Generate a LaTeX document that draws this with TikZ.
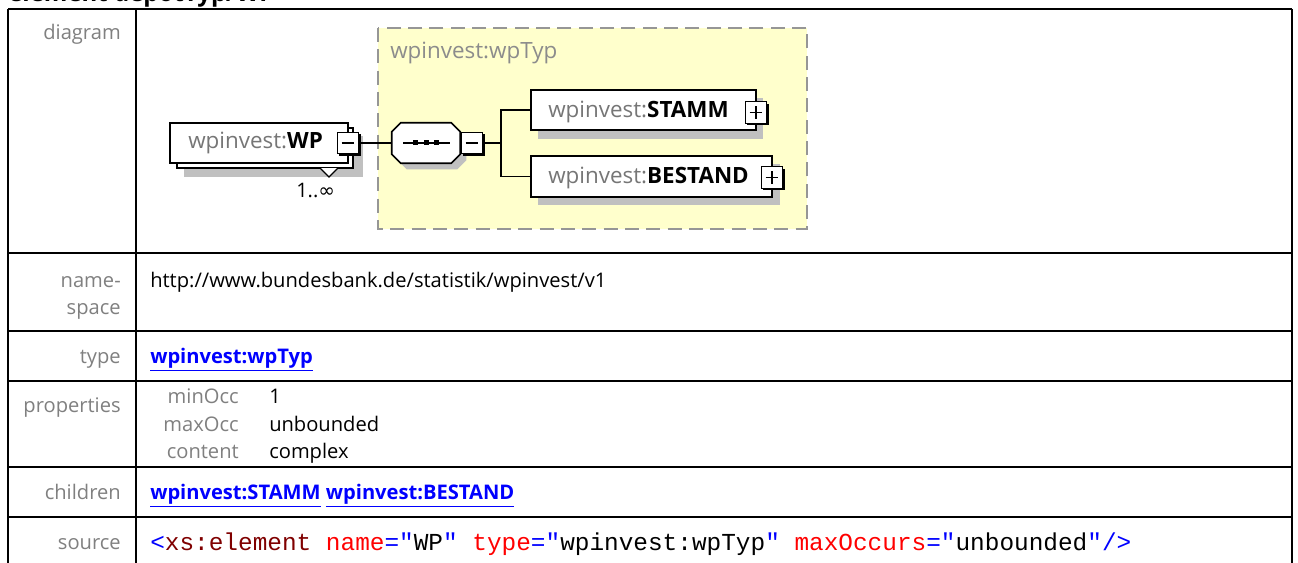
\documentclass[tikz,border=0pt]{standalone}
\usepackage{fontspec}
\setmainfont{Open Sans}
\newfontfamily\codefont{Liberation Mono}
\newfontfamily\symfont{DejaVu Sans}
\definecolor{lblgray}{RGB}{128,128,128}
\definecolor{dgray}{RGB}{118,118,118}
\definecolor{ttlgray}{RGB}{140,140,140}
\definecolor{regionfill}{RGB}{255,255,204}
\definecolor{regionline}{RGB}{150,150,150}
\definecolor{shadowgray}{RGB}{192,192,192}
\definecolor{linkblue}{RGB}{0,0,255}
\definecolor{tagblue}{RGB}{0,0,255}
\definecolor{tagred}{RGB}{128,0,0}
\definecolor{attrred}{RGB}{255,0,0}
\newcommand\tabfont{\fontsize{15.1pt}{18pt}\selectfont}
\newcommand\diafont{\fontsize{16.8pt}{20pt}\selectfont}
\newcommand\srcfont{\codefont\fontsize{18.3pt}{22pt}\selectfont}
\newcommand\lnk[1]{\textcolor{linkblue}{\underline{\textbf{#1}}}}
\newcommand\tglbox[3]{%
  \node[tglshadow,xshift=1.6pt,yshift=-1.6pt] (#1s) at (#2) {};
  \node[tgl] (#1) at (#2) {};
  \draw[line width=0.9pt] ([xshift=-4.8pt]#1.center) -- ([xshift=4.8pt]#1.center);
  \ifx#3p\draw[line width=0.9pt] ([yshift=-4.8pt]#1.center) -- ([yshift=4.8pt]#1.center);\fi
}
\newcommand\octpath[1]{%
  ([xshift=6.75pt]#1.north west) -- ([xshift=-6.75pt]#1.north east) --
  ([yshift=-6.75pt]#1.north east) -- ([yshift=6.75pt]#1.south east) --
  ([xshift=-6.75pt]#1.south east) -- ([xshift=6.75pt]#1.south west) --
  ([yshift=6.75pt]#1.south west) -- ([yshift=-6.75pt]#1.north west) -- cycle}
\tikzset{
  lbl/.style={anchor=base east,text=lblgray,font=\tabfont,inner sep=0},
  val/.style={anchor=base west,text=black,font=\tabfont,inner sep=0},
  dtext/.style={anchor=base west,inner sep=0,font=\diafont},
  elbox/.style={draw,line width=1.2pt,fill=white,inner sep=0,rectangle},
  tgl/.style={draw,line width=0.9pt,fill=white,inner sep=0,minimum width=16pt,minimum height=16pt},
  tglshadow/.style={fill=black,inner sep=0,minimum width=16pt,minimum height=16pt},
  conn/.style={line width=1.1pt},
  tline/.style={line width=1.5pt},
  octo/.style={rectangle,inner sep=0,minimum width=51pt,minimum height=30pt},
}
\begin{document}
\begin{tikzpicture}[x=0.75pt,y=-0.75pt]
\useasboundingbox (0,0) rectangle (1298,563);
\fill[white] (0,0) rectangle (1298,563);
% heading (cut off at the top, as in the page it was taken from)
\begin{scope}
\clip (0,0) rectangle (1298,563);
\node[anchor=base west,inner sep=0,font=\fontsize{18pt}{20pt}\selectfont\bfseries] (heading) at (8,1.5) {element depotTyp/WP};
\end{scope}
% table
\draw[tline] (8,9) -- (1292,9);
\foreach \yy in {253,331,381,467,517} \draw[tline] (8,\yy) -- (1292,\yy);
\draw[tline] (8,9) -- (8,564);
\draw[tline] (136,9) -- (136,564);
\draw[tline] (1292,9) -- (1292,564);
% labels
\node[lbl] (ldiagram) at (121,40) {diagram};
\node[lbl] (lname) at (121,287) {name-};
\node[lbl] (lspace) at (121,314.5) {space};
\node[lbl] (ltype) at (121,363.5) {type};
\node[lbl] (lprops) at (121,412) {properties};
\node[lbl] (lchildren) at (121,499.5) {children};
\node[lbl] (lsource) at (121,549.5) {source};
% values
\node[val] (vns) at (150,287) {http://www.bundesbank.de/statistik/wpinvest/v1};
\node[val] (vtype) at (150,363.5) {\lnk{wpinvest:wpTyp}};
\node[lbl] (pmin) at (239,403.5) {minOcc};
\node[lbl] (pmax) at (239,431.5) {maxOcc};
\node[lbl] (pcont) at (239,458.5) {content};
\node[val] (vmin) at (269,403.5) {1};
\node[val] (vmax) at (269,431.5) {unbounded};
\node[val] (vcont) at (269,458.5) {complex};
\node[val] (vchildren) at (150,499.5) {\lnk{wpinvest:STAMM} \lnk{wpinvest:BESTAND}};
\node[anchor=base west,inner sep=0,font=\srcfont] (vsource) at (150,550.5) {\textcolor{tagblue}{<}\textcolor{tagred}{xs:element} \textcolor{attrred}{name}\textcolor{tagblue}{="}WP\textcolor{tagblue}{"} \textcolor{attrred}{type}\textcolor{tagblue}{="}wpinvest:wpTyp\textcolor{tagblue}{"} \textcolor{attrred}{maxOccurs}\textcolor{tagblue}{="}unbounded\textcolor{tagblue}{"/>}};
% diagram: type region
\filldraw[fill=regionfill,draw=regionline,line width=1.3pt,dash pattern=on 10.5pt off 5.5pt] (378,28) rectangle (807,229);
\node[dtext,text=ttlgray] (rtitle) at (390,59) {wpinvest:wpTyp};
% WP element
\fill[shadowgray] (184,136) rectangle (363,177);
\node[elbox,minimum width=132pt,minimum height=30pt] (wpback) at (265,148) {};
\filldraw[fill=white,draw=black,line width=1pt] (320,168) -- (329,177) -- (338,168);
\node[elbox,minimum width=133.5pt,minimum height=30pt] (wp) at (259,143) {};
\node[dtext] (wplbl) at (188,149) {\textcolor{dgray}{wpinvest:}\textbf{WP}};
\tglbox{wptgl}{348,143}{m}
\node[anchor=base west,inner sep=0,font=\fontsize{15pt}{17pt}\selectfont] (occ) at (296,197) {1..{\symfont ∞}};
% sequence compositor
\node[octo] (seqshadow) at (432,149) {};
\fill[shadowgray] \octpath{seqshadow};
\node[octo] (seq) at (426,143) {};
\filldraw[fill=white,draw=black,line width=1.2pt] \octpath{seq};
\draw[line width=1pt] (403,143) -- (450,143);
\fill (413,140.5) rectangle (418,145.5);
\fill (423.5,140.5) rectangle (428.5,145.5);
\fill (434,140.5) rectangle (439,145.5);
\tglbox{seqtgl}{472,143}{m}
\coordinate (branch) at (501,143);
% children
\fill[shadowgray] (538,98) rectangle (763,139);
\node[elbox,minimum width=168.75pt,minimum height=30pt] (stamm) at (643.5,110) {};
\node[dtext] (stammlbl) at (548,118) {\textcolor{dgray}{wpinvest:}\textbf{STAMM}};
\tglbox{stammtgl}{756,112.5}{p}
\fill[shadowgray] (538,164) rectangle (780,205);
\node[elbox,minimum width=180.75pt,minimum height=30.75pt] (bestand) at (651.5,176.5) {};
\node[dtext] (bestandlbl) at (548,183) {\textcolor{dgray}{wpinvest:}\textbf{BESTAND}};
\tglbox{bestandtgl}{772,177.5}{p}
% connectors
\draw[conn] (wptgl.east) -- (seq.west);
\draw[conn] (seqtgl.east) -- (branch);
\draw[conn] (branch) |- (stamm.west);
\draw[conn] (branch) |- (bestand.west);
\end{tikzpicture}
\end{document}
